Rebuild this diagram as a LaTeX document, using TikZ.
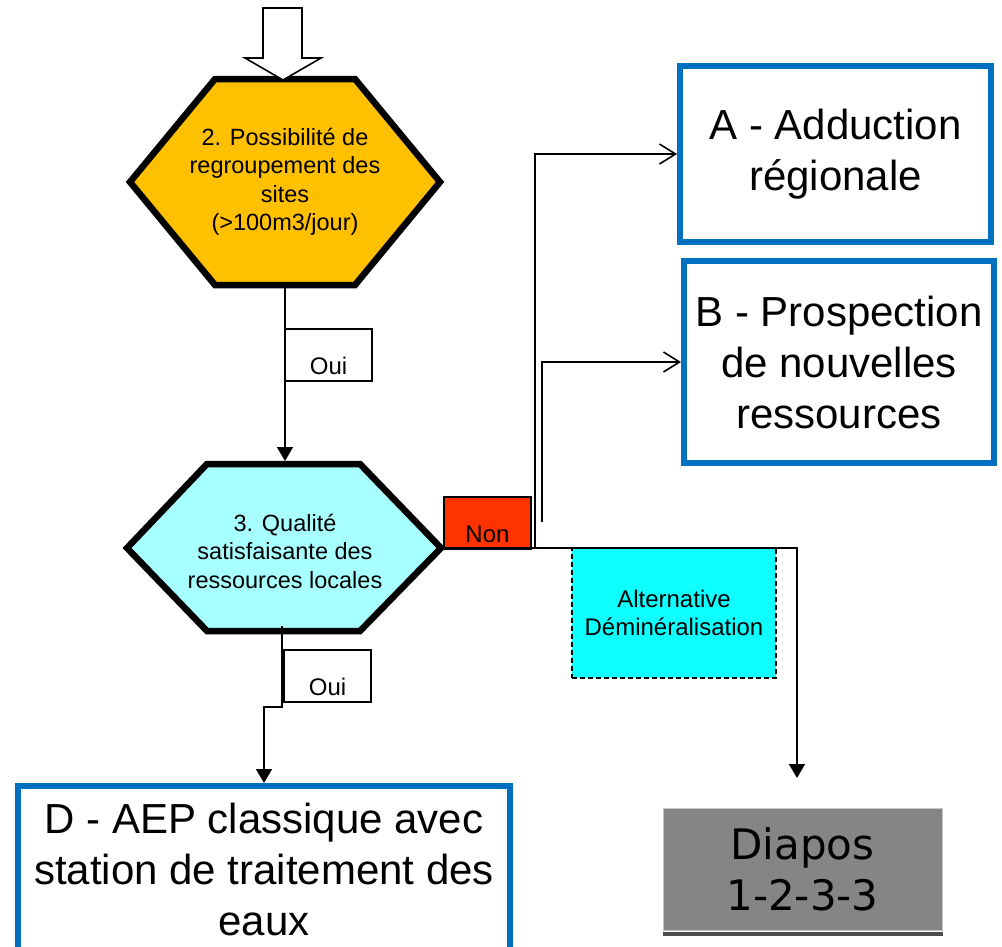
\documentclass[tikz,border=0pt]{standalone}
\usepackage{fontspec}
\setmainfont{Liberation Sans}
\newfontfamily\diaposfont{DejaVu Sans}
\usepackage{xcolor}
\usetikzlibrary{arrows.meta,positioning,calc}
\definecolor{hexorange}{HTML}{FFC000}
\definecolor{hexcyan}{HTML}{A8FFFF}
\definecolor{altcyan}{HTML}{0DFFFF}
\definecolor{nonred}{HTML}{FF3300}
\definecolor{boxblue}{HTML}{0070C0}
\definecolor{diagray}{HTML}{858585}

\begin{document}
\begin{tikzpicture}[x=1pt,y=-1pt,
  hexa/.style={draw=black,line width=6.5pt,line join=miter},
  hextext/.style={inner sep=0pt,align=center,font=\fontsize{23.5}{28.5}\selectfont},
  result/.style={draw=boxblue,line width=6pt,fill=white,inner sep=0pt,align=center,font=\fontsize{42}{51}\selectfont},
  tag/.style={draw,line width=1.4pt,inner sep=0pt,font=\fontsize{24}{28}\selectfont,minimum width=87pt,text height=45pt,text depth=7pt},
  link/.style={line width=1.6pt},
  down/.style={link,-{Triangle[width=16pt,length=14pt]}},
  side/.style={link,-{Straight Barb[width=20pt,length=16pt,line width=1.6pt]}}]
  \useasboundingbox (0,0) rectangle (1002,946);
  % hexagon 2
  \draw[hexa,fill=hexorange] (130,182) -- (215,79) -- (355,79) -- (440,182) -- (355,285) -- (215,285) -- cycle;
  \node[hextext] (q2) at (285,182) {2. Possibilit\'e de\\regroupement des\\sites\\(>100m3/jour)};
  % entry arrow
  \draw[line width=1.6pt,fill=white,line join=miter] (263,8) -- (302,8) -- (302,58) -- (321,58) -- (283,80) -- (245,58) -- (263,58) -- cycle;
  % hexagon 3
  \draw[hexa,fill=hexcyan] (127,548) -- (207,464) -- (360,464) -- (441,548) -- (360,631) -- (207,631) -- cycle;
  \node[hextext] (q3) at (285,551) {3. Qualit\'e\\satisfaisante des\\ressources locales};
  \coordinate (q2bot) at (285,285);
  \coordinate (q3top) at (285,461);
  \coordinate (q3bot) at (282,626);
  \coordinate (q3east) at (441,548);
  % result boxes
  \node[result,minimum width=311pt,minimum height=176pt] (A) at (835.5,154) {A - Adduction\\r\'egionale};
  \node[result,minimum width=310pt,minimum height=202pt] (B) at (839,362) {B - Prospection\\de nouvelles\\ressources};
  \node[result,minimum width=492pt,minimum height=167pt] (D) at (264,869.5) {D - AEP classique avec\\station de traitement des\\eaux};
  % alternative
  \node[draw,dashed,dash pattern=on 5pt off 3pt,line width=1.4pt,fill=altcyan,minimum width=204pt,minimum height=130pt,inner sep=0pt,align=center,font=\fontsize{24}{28}\selectfont] (alt) at (674,613) {Alternative\\D\'emin\'eralisation};
  % diapos
  \node[draw=gray!45,line width=1pt,fill=diagray,minimum width=279pt,minimum height=122pt,inner sep=0pt,align=center,font=\diaposfont\fontsize{42}{51}\selectfont] (dia) at (802.5,869) {Diapos\\1-2-3-3};
  \draw[line width=4pt,black!70] ($(dia.south west)+(0,3)$) -- ($(dia.south east)+(0,3)$);
  % tags
  \node[tag,fill=white,anchor=base] (oui1) at (328.5,374) {Oui};
  \node[tag,fill=white,anchor=base] (oui2) at (327.5,695) {Oui};
  \node[tag,fill=nonred,anchor=base] (non) at (487.5,542) {Non};
  \coordinate (nonA) at (535,548);
  \coordinate (nonB) at (542,522);
  \coordinate (diain) at (797,778);
  % connectors
  \draw[down] (q2bot) -- (q3top);
  \draw[down] (q3bot) -- ++(0,81) -| (D.north);
  \draw[down] (q3east) -| (diain);
  \draw[side] (nonA) |- (A.west);
  \draw[side] (nonB) |- (B.west);
\end{tikzpicture}
\end{document}
